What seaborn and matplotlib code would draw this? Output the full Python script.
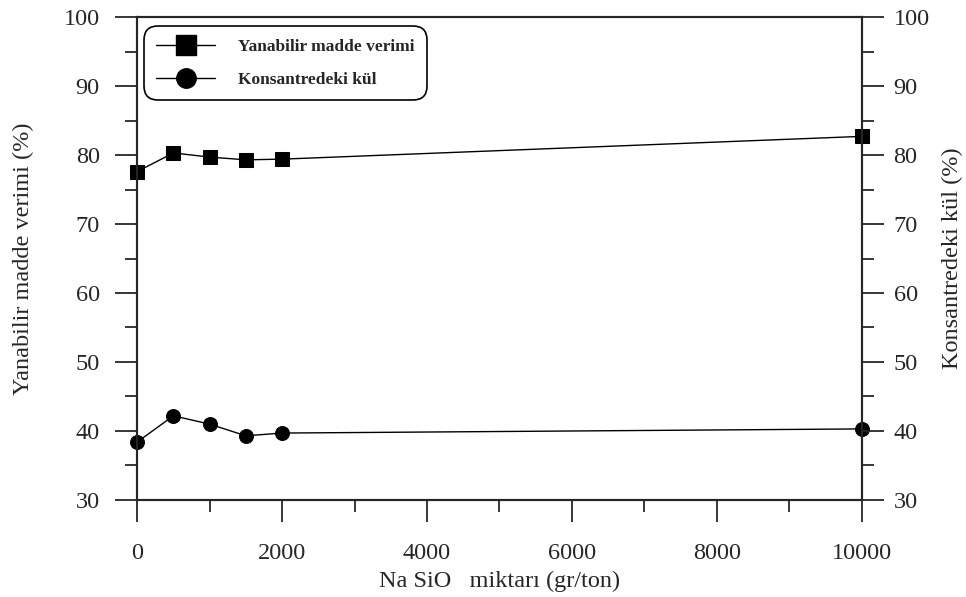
import matplotlib
matplotlib.use("Agg")
import matplotlib.pyplot as plt
import seaborn as sns
import pandas as pd
from matplotlib.ticker import MultipleLocator
from matplotlib.lines import Line2D

sns.set_style("ticks")
plt.rcParams['font.family'] = ['Liberation Serif', 'DejaVu Serif']

x_vals = [0, 500, 1000, 1500, 2000, 10000]
verim = [77.6, 80.3, 79.7, 79.3, 79.4, 82.7]
kul = [38.4, 42.2, 41.0, 39.3, 39.7, 40.3]
series_names = ["Yanabilir madde verimi", "Konsantredeki kül"]
xlabel = "Na SiO   miktarı (gr/ton)"
ylabel_left = "Yanabilir madde verimi (%)"
ylabel_right = "Konsantredeki kül (%)"

df = pd.DataFrame({
    "x": x_vals * 2,
    "y": verim + kul,
    "seri": [series_names[0]] * len(x_vals) + [series_names[1]] * len(x_vals),
})

fig = plt.figure(figsize=(9.66, 5.97), dpi=100)
ax = fig.add_axes([0.142, 0.1625, 0.750, 0.809])

sns.lineplot(data=df, x="x", y="y", hue="seri", style="seri",
             markers={series_names[0]: "s", series_names[1]: "o"},
             dashes=False, palette=["black", "black"], markersize=10,
             linewidth=1.0, markeredgecolor="black", ax=ax, legend=False)
for ln in ax.lines:
    ln.set_clip_on(False)
    ln.set_zorder(5)

ax.set_xlim(0, 10000)
ax.set_ylim(30, 100)
ax.xaxis.set_major_locator(MultipleLocator(2000))
ax.xaxis.set_minor_locator(MultipleLocator(1000))
ax.yaxis.set_major_locator(MultipleLocator(10))
ax.yaxis.set_minor_locator(MultipleLocator(5))
ax.tick_params(axis="y", which="major", direction="out", length=16, width=1.3,
               labelsize=17.5, pad=11)
ax.tick_params(axis="x", which="major", direction="out", length=16, width=1.3,
               labelsize=17.5, pad=15)
ax.tick_params(axis="both", which="minor", direction="out", length=8.5, width=1.3)
for s in ax.spines.values():
    s.set_linewidth(1.5)
ax.set_xlabel(xlabel, fontsize=17.5, labelpad=5)
ax.set_ylabel(ylabel_left, fontsize=17.5, labelpad=21)

ax2 = ax.twinx()
ax2.set_ylim(30, 100)
ax2.yaxis.set_major_locator(MultipleLocator(10))
ax2.yaxis.set_minor_locator(MultipleLocator(5))
ax2.tick_params(axis="y", which="major", direction="out", length=16, width=1.3,
                labelsize=17.5, pad=7)
ax2.tick_params(axis="y", which="minor", direction="out", length=8.5, width=1.3)
ax2.set_ylabel(ylabel_right, fontsize=17.5, labelpad=9)
for s in ax2.spines.values():
    s.set_linewidth(1.5)

handles = [
    Line2D([], [], color="black", marker="s", markersize=14, linewidth=1.0),
    Line2D([], [], color="black", marker="o", markersize=14, linewidth=1.0),
]
leg = ax.legend(handles, series_names, loc="upper left",
                bbox_to_anchor=(0.017, 0.97), frameon=True, fancybox=True,
                prop={"family": "Liberation Serif", "weight": "bold", "size": 12.5},
                handlelength=3.4, borderpad=0.4, labelspacing=1.0,
                handletextpad=1.3, borderaxespad=0)
leg.get_frame().set_edgecolor("black")
leg.get_frame().set_linewidth(1.2)
leg.get_frame().set_alpha(1)
leg.get_frame().set_boxstyle("round,pad=0.3,rounding_size=0.8")
leg.set_zorder(10)

fig.savefig("out.png", dpi=100)
